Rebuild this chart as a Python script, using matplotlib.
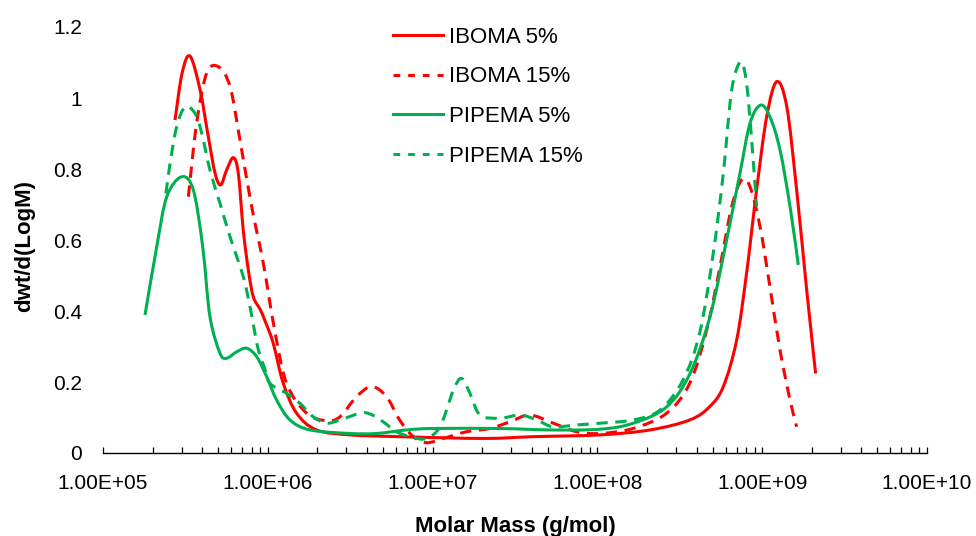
#!/usr/bin/env python3
"""Molar mass distributions (dwt/dlogM) for IBOMA and PIPEMA at 5% and 15%."""

import numpy as np
import matplotlib
matplotlib.use("Agg")
import matplotlib.pyplot as plt
from matplotlib.lines import Line2D
from matplotlib.path import Path
from matplotlib.patches import PathPatch
from matplotlib.ticker import FuncFormatter, LogLocator

RED = "#FF0000"
GREEN = "#00B050"
TEXT = "#000000"

plt.rcParams.update({
    "font.family": ["Liberation Sans", "DejaVu Sans"],
})

# log10(M) positions and dwt/d(logM) values
iboma5_logm = [5.437, 5.48, 5.528, 5.589, 5.639, 5.68, 5.714, 5.75, 5.791, 5.821,
               5.851, 5.882, 5.912, 5.953, 5.985, 6.033, 6.094, 6.175, 6.296, 6.499,
               6.80, 7.31, 7.61, 8.016, 8.32, 8.56, 8.68, 8.764, 8.845, 8.905,
               8.966, 9.027, 9.088, 9.149, 9.209, 9.27, 9.324]
iboma5_val = [0.938, 1.07, 1.118, 1.023, 0.891, 0.788, 0.755, 0.797, 0.832, 0.788,
              0.628, 0.515, 0.44, 0.405, 0.37, 0.309, 0.196, 0.112, 0.065, 0.051,
              0.046, 0.041, 0.046, 0.051, 0.065, 0.093, 0.130, 0.187, 0.318, 0.506,
              0.741, 0.947, 1.046, 0.976, 0.741, 0.459, 0.224]

iboma15_logm = [5.518, 5.568, 5.629, 5.70, 5.771, 5.831, 5.902, 5.973, 6.04, 6.114,
                6.236, 6.357, 6.438, 6.539, 6.63, 6.72, 6.80, 6.883, 6.964, 7.065,
                7.207, 7.348, 7.47, 7.59, 7.732, 7.874, 8.016, 8.216, 8.42, 8.56,
                8.663, 8.744, 8.815, 8.875, 8.926, 8.987, 9.047, 9.108, 9.169, 9.209]
iboma15_val = [0.722, 0.929, 1.07, 1.088, 1.032, 0.882, 0.694, 0.534, 0.35, 0.196,
               0.112, 0.091, 0.102, 0.159, 0.187, 0.159, 0.093, 0.046, 0.029, 0.041,
               0.060, 0.069, 0.088, 0.107, 0.084, 0.060, 0.055, 0.069, 0.112, 0.196,
               0.346, 0.525, 0.694, 0.769, 0.750, 0.637, 0.468, 0.290, 0.149, 0.074]

pipema5_logm = [5.255, 5.326, 5.387, 5.477, 5.548, 5.605, 5.649, 5.71, 5.75, 5.811,
                5.872, 5.933, 5.993, 6.054, 6.135, 6.256, 6.499, 6.66, 6.843, 7.005,
                7.41, 7.71, 8.016, 8.218, 8.42, 8.562, 8.683, 8.784, 8.865, 8.926,
                8.99, 9.047, 9.108, 9.169, 9.219]
pipema5_val = [0.389, 0.581, 0.722, 0.778, 0.741, 0.581, 0.384, 0.281, 0.267, 0.285,
               0.295, 0.271, 0.215, 0.149, 0.093, 0.065, 0.055, 0.055, 0.065, 0.069,
               0.069, 0.065, 0.067, 0.084, 0.130, 0.224, 0.384, 0.60, 0.788, 0.929,
               0.980, 0.947, 0.854, 0.694, 0.530]

pipema15_logm = [5.382, 5.407, 5.447, 5.498, 5.558, 5.599, 5.649, 5.71, 5.771, 5.851,
                 5.892, 5.922, 5.943, 5.98, 6.013, 6.114, 6.195, 6.276, 6.357, 6.438,
                 6.56, 6.62, 6.70, 6.78, 6.88, 6.96, 7.045, 7.126, 7.176, 7.227,
                 7.288, 7.41, 7.53, 7.632, 7.73, 7.874, 8.016, 8.216, 8.38, 8.52,
                 8.62, 8.70, 8.764, 8.815, 8.87, 8.905, 8.936, 8.966]
pipema15_val = [0.731, 0.816, 0.919, 0.975, 0.957, 0.901, 0.797, 0.703, 0.609, 0.497,
                0.412, 0.337, 0.29, 0.24, 0.196, 0.168, 0.14, 0.102, 0.084, 0.093,
                0.112, 0.110, 0.088, 0.060, 0.044, 0.041, 0.074, 0.177, 0.21, 0.168,
                0.107, 0.098, 0.107, 0.093, 0.074, 0.079, 0.084, 0.093, 0.121, 0.206,
                0.337, 0.553, 0.788, 1.023, 1.102, 1.041, 0.882, 0.694]

SERIES = [
    ("IBOMA 5%", iboma5_logm, iboma5_val, RED, "-"),
    ("IBOMA 15%", iboma15_logm, iboma15_val, RED, "--"),
    ("PIPEMA 5%", pipema5_logm, pipema5_val, GREEN, "-"),
    ("PIPEMA 15%", pipema15_logm, pipema15_val, GREEN, "--"),
]

LW = 2.2
PLOT_DASH = (0, (3.7, 2.5))
LEGEND_DASH = (0, (2.2, 2.6))


def smooth_path(logm, val):
    """Excel-style smoothed line: cubic Bezier segments through the data points."""
    p = np.column_stack([logm, val]).astype(float)
    ext = np.vstack([p[:1], p, p[-1:]])
    verts = [p[0]]
    codes = [Path.MOVETO]
    for i in range(len(p) - 1):
        c1 = ext[i + 1] + (ext[i + 2] - ext[i]) / 6.0
        c2 = ext[i + 2] - (ext[i + 3] - ext[i + 1]) / 6.0
        verts += [c1, c2, p[i + 1]]
        codes += [Path.CURVE4] * 3
    verts = np.array(verts)
    verts[:, 0] = 10.0 ** verts[:, 0]
    return Path(verts, codes)


def main():
    fig = plt.figure(figsize=(9.76, 5.36), dpi=100)
    fig.patch.set_facecolor("white")
    ax = fig.add_axes([103 / 976, 1 - 453 / 536, 824 / 976, 426 / 536])
    ax.set_xscale("log")
    ax.set_xlim(1e5, 1e10)
    ax.set_ylim(0, 1.2)

    handles = []
    for label, logm, val, color, style in SERIES:
        ls = "-" if style == "-" else PLOT_DASH
        patch = PathPatch(smooth_path(logm, val), fill=False, edgecolor=color,
                          linewidth=LW, linestyle=ls, capstyle="butt",
                          joinstyle="round", transform=ax.transData)
        ax.add_patch(patch)
        hls = "-" if style == "-" else LEGEND_DASH
        handles.append(Line2D([], [], color=color, linestyle=hls, linewidth=LW,
                              label=label))

    ax.set_xlim(1e5, 1e10)
    ax.set_ylim(0, 1.2)
    ax.set_yticks(np.arange(0, 1.21, 0.2))
    ax.xaxis.set_major_locator(LogLocator(base=10, numticks=10))
    ax.xaxis.set_minor_locator(LogLocator(base=10, subs=np.arange(2, 10), numticks=20))
    ax.xaxis.set_major_formatter(FuncFormatter(lambda v, _: f"{v:.2E}"))
    ax.yaxis.set_major_formatter(FuncFormatter(lambda v, _: f"{v:g}"))

    for side in ("left", "right", "top"):
        ax.spines[side].set_visible(False)
    ax.spines["bottom"].set_color("#000000")
    ax.spines["bottom"].set_linewidth(1.0)

    ax.tick_params(axis="x", which="both", direction="in", length=4, width=0.9,
                   colors=TEXT, labelsize=15, pad=15)
    ax.tick_params(axis="y", length=0, labelsize=15, pad=15, colors=TEXT)

    ax.set_xlabel("Molar Mass (g/mol)", fontsize=16, fontweight="bold", color=TEXT)
    ax.xaxis.set_label_coords(0.5, -0.148)
    ax.set_ylabel("dwt/d(LogM)", fontsize=16, fontweight="bold", color=TEXT)
    ax.yaxis.set_label_coords(-0.082, 0.486)

    ax.legend(handles=handles, loc="upper left",
              bbox_to_anchor=(393 / 976, 1 - 26.8 / 536),
              bbox_transform=fig.transFigure, frameon=False, fontsize=16,
              handlelength=2.25, handletextpad=0.27, labelspacing=0.84,
              borderpad=0, borderaxespad=0)

    fig.savefig("out.png", dpi=100, facecolor="white")
    plt.close(fig)


if __name__ == "__main__":
    main()
